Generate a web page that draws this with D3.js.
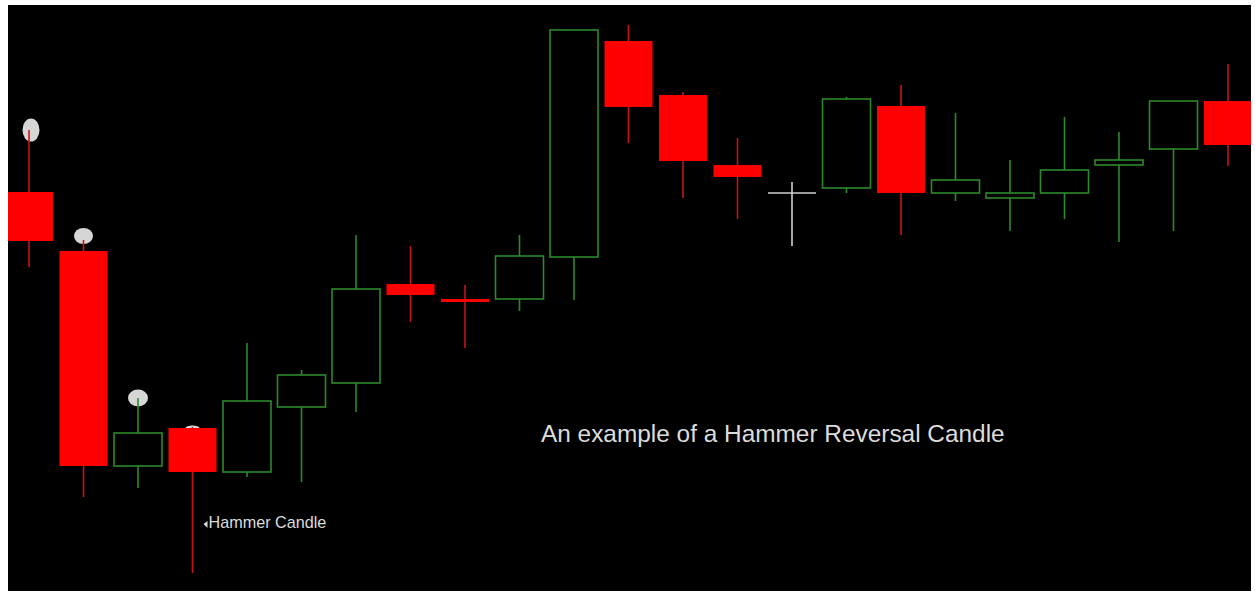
<!DOCTYPE html>
<html>
<head>
<meta charset="utf-8">
<script src="https://cdn.jsdelivr.net/npm/d3@7"></script>
<style>
  html, body { margin: 0; padding: 0; background: #ffffff; }
  svg { display: block; }
</style>
</head>
<body>
<svg id="chart" width="1255" height="595"></svg>
<script>
// ---- data (price units) ----
const categories = d3.range(1, 24).map(d => "C" + d);
const openVals  = [408, 349, 134, 172, 128, 193, 217, 316, 301, 301, 343, 559, 505, 435, 407, 412, 494, 407, 402, 407, 435, 451, 499];
const highVals  = [470, 360, 202, 173, 257, 230, 365, 354, 315, 365, 570, 575, 508, 462, 418, 503, 515, 487, 440, 483, 468, 499, 536];
const lowVals   = [333, 103, 112,  27, 123, 118, 188, 278, 252, 289, 300, 457, 402, 381, 354, 407, 365, 399, 369, 381, 358, 369, 434];
const closeVals = [359, 134, 167, 128, 199, 225, 311, 305, 298, 344, 570, 493, 439, 423, 407, 501, 407, 420, 407, 430, 440, 499, 455];
// high markers (candle index, marker price)
const markerIdx    = [0, 1, 2, 3];
const markerPrices = [470, 364, 202, 172];
const annotationText = "Hammer Candle";
const hammerIdx = 3;
const titleText = "An example of a Hammer Reversal Candle";

// ---- styles ----
const markerSize = [[8.5, 11.5], [9.5, 8], [10, 8.5], [7, 2.5]];
const W = 1255, H = 595;
const plot = { x0: 8, y0: 5, x1: 1251, y1: 591 };
const bodyW = 48;
const COL = { up: "#2b8a2b", down: "#ff0000", downWick: "#c81414", doji: "#cfcfcf", marker: "#d6d6d6", text: "#dcdcdc" };

const candles = categories.map((c, i) => ({ c, i, o: openVals[i], h: highVals[i], l: lowVals[i], cl: closeVals[i] }));

const x = d3.scalePoint().domain(categories).range([29, 1228]);
const y = d3.scaleLinear().domain([10, 595]).range([590, 5]);

const svg = d3.select("#chart");
svg.append("rect").attr("x", 0).attr("y", 0).attr("width", W).attr("height", H).attr("fill", "#fff");
svg.append("rect").attr("x", plot.x0).attr("y", plot.y0)
  .attr("width", plot.x1 - plot.x0).attr("height", plot.y1 - plot.y0).attr("fill", "#000");

svg.append("clipPath").attr("id", "clip").append("rect")
  .attr("x", plot.x0).attr("y", plot.y0).attr("width", plot.x1 - plot.x0).attr("height", plot.y1 - plot.y0);

const g = svg.append("g").attr("clip-path", "url(#clip)");

function kind(d) { return d.o === d.cl ? "doji" : (d.cl > d.o ? "up" : "down"); }

// markers behind candles
g.selectAll("ellipse.marker").data(markerIdx).join("ellipse")
  .attr("class", "marker")
  .attr("cx", (d, k) => x(categories[d]) + (k === 0 ? 2 : 0))
  .attr("cy", (d, k) => y(markerPrices[k]))
  .attr("rx", (d, k) => markerSize[k][0])
  .attr("ry", (d, k) => markerSize[k][1])
  .attr("fill", COL.marker);

// wicks
g.selectAll("line.wick").data(candles).join("line")
  .attr("class", "wick")
  .attr("x1", d => x(d.c)).attr("x2", d => x(d.c))
  .attr("y1", d => y(d.h)).attr("y2", d => y(d.l))
  .attr("stroke", d => kind(d) === "up" ? COL.up : kind(d) === "down" ? COL.downWick : COL.doji)
  .attr("stroke-width", 1.6);

// bodies
g.selectAll("rect.body").data(candles.filter(d => kind(d) !== "doji")).join("rect")
  .attr("class", "body")
  .attr("x", d => x(d.c) - bodyW / 2)
  .attr("width", bodyW)
  .attr("y", d => y(Math.max(d.o, d.cl)))
  .attr("height", d => Math.max(2, Math.abs(y(d.o) - y(d.cl))))
  .attr("fill", d => kind(d) === "up" ? "#000" : COL.down)
  .attr("stroke", d => kind(d) === "up" ? COL.up : "none")
  .attr("stroke-width", 1.6);

// doji horizontal lines
g.selectAll("line.doji").data(candles.filter(d => kind(d) === "doji")).join("line")
  .attr("class", "doji")
  .attr("x1", d => x(d.c) - bodyW / 2).attr("x2", d => x(d.c) + bodyW / 2)
  .attr("y1", d => y(d.o)).attr("y2", d => y(d.o))
  .attr("stroke", COL.doji).attr("stroke-width", 1.6);

// annotation
const hx = x(categories[hammerIdx]);
const ay = 524;
g.append("path")
  .attr("d", `M${hx + 11},${ay} L${hx + 15},${ay - 3} L${hx + 15},${ay + 4} Z`)
  .attr("fill", COL.text);
g.append("text")
  .attr("x", hx + 16).attr("y", 528)
  .attr("font-family", "Liberation Sans, Arial, sans-serif")
  .attr("font-size", 16.2)
  .attr("fill", COL.text)
  .text(annotationText);

g.append("text")
  .attr("x", 541).attr("y", 442)
  .attr("font-family", "Liberation Sans, Arial, sans-serif")
  .attr("font-size", 24.4)
  .attr("fill", COL.text)
  .text(titleText);
</script>
</body>
</html>
